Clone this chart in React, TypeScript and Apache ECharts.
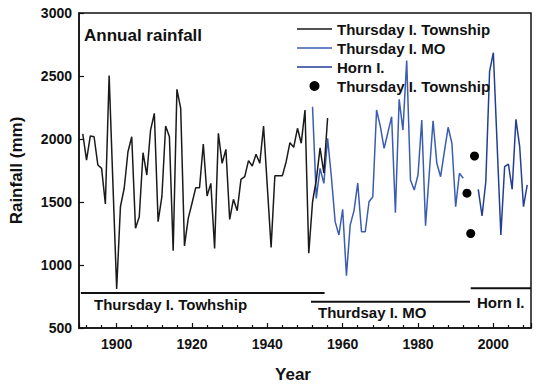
import React, { useEffect, useRef } from "react";
import * as echarts from "echarts";

// ---- data ----
const townshipYears = [
  1891, 1892, 1893, 1894, 1895, 1896, 1897, 1898, 1899, 1900,
  1901, 1902, 1903, 1904, 1905, 1906, 1907, 1908, 1909, 1910,
  1911, 1912, 1913, 1914, 1915, 1916, 1917, 1918, 1919, 1920,
  1921, 1922, 1923, 1924, 1925, 1926, 1927, 1928, 1929, 1930,
  1931, 1932, 1933, 1934, 1935, 1936, 1937, 1938, 1939, 1940,
  1941, 1942, 1943, 1944, 1945, 1946, 1947, 1948, 1949, 1950,
  1951, 1952, 1953, 1954, 1955, 1956,
];
const townshipRain = [
  2040, 1833, 2024, 2018, 1794, 1767, 1484, 2503, 1650, 810,
  1463, 1609, 1899, 2018, 1291, 1383, 1891, 1714, 2071, 2204,
  1344, 1542, 2103, 2018, 1114, 2394, 2243, 1151, 1370, 1490,
  1614, 1614, 1960, 1548, 1648, 1132, 2045, 1807, 1918, 1362,
  1521, 1431, 1680, 1701, 1828, 1786, 1879, 1807, 2103, 1620,
  1140, 1709, 1709, 1709, 1820, 1971, 1934, 2085, 1966, 2230,
  1093, 1500, 1675, 1929, 1730, 2167,
];

const moYears = [
  1952, 1953, 1954, 1955, 1956, 1957, 1958, 1959, 1960, 1961,
  1962, 1963, 1964, 1965, 1966, 1967, 1968, 1969, 1970, 1971,
  1972, 1973, 1974, 1975, 1976, 1977, 1978, 1979, 1980, 1981,
  1982, 1983, 1984, 1985, 1986, 1987, 1988, 1989, 1990, 1991, 1992,
];
const moRain = [
  2256, 1529, 1767, 1648, 2005, 1700, 1344, 1238, 1442, 915,
  1317, 1430, 1650, 1264, 1264, 1502, 1542, 2230, 2100, 1926,
  2050, 2177, 1415, 2315, 2071, 2622, 1675, 1595, 1714, 2151,
  1312, 1730, 2145, 1807, 1701, 1900, 2093, 1966, 1463, 1728, 1688,
];

const hornYears = [
  1996, 1997, 1998, 1999, 2000, 2001, 2002, 2003, 2004, 2005,
  2006, 2007, 2008, 2009,
];
const hornRain = [
  1601, 1389, 1661, 2534, 2685, 1960, 1238, 1780, 1801, 1601,
  2156, 1939, 1463, 1635,
];

const dotYears = [1993, 1994, 1995];
const dotRain = [1570, 1250, 1865];

// record-period bars: [startYear, endYear, level]
const periodTownship = [1890.5, 1955.2, 778];
const periodMO = [1951.6, 1993.8, 709];
const periodHorn = [1994, 2010, 815];

const yTicks = [500, 1000, 1500, 2000, 2500, 3000];

const FONT = "'Liberation Sans', Arial, Helvetica, sans-serif";
const MO_BLUE = "#3a5db3";
const HORN_BLUE = "#233f94";
// thin horizontal line icon (outer slivers keep the bounding box 10 tall)
const LINE_ICON =
  "path://M0,0L35,0L35,0.01L0,0.01Z M0,4.25L35,4.25L35,5.75L0,5.75Z M0,9.99L35,9.99L35,10L0,10Z";

function pairs(xs: number[], ys: number[]) {
  return xs.map((x, i) => [x, ys[i]]);
}
function period(p: number[]) {
  return [
    [p[0], p[2]],
    [p[1], p[2]],
  ];
}

export default function App() {
  const ref = useRef<HTMLDivElement>(null);

  useEffect(() => {
    if (!ref.current) return;
    const chart = echarts.init(ref.current, undefined, { renderer: "svg" });
    const periodLine = (data: number[][]) => ({
      type: "line",
      data,
      symbol: "none",
      silent: true,
      lineStyle: { color: "#111", width: 2 },
      z: 1,
    });
    chart.setOption({
      animation: false,
      backgroundColor: "#fff",
      textStyle: { fontFamily: FONT },
      grid: {
        left: 79,
        right: 9,
        top: 13,
        bottom: 61,
        show: true,
        borderColor: "#111",
        borderWidth: 1.5,
        backgroundColor: "transparent",
      },
      legend: {
        orient: "vertical",
        left: 297,
        top: 21,
        padding: 0,
        itemWidth: 35,
        itemHeight: 10,
        itemGap: 3,
        textStyle: {
          fontFamily: FONT,
          fontSize: 15,
          fontWeight: "bold",
          color: "#111",
          lineHeight: 16,
        },
        data: [
          { name: "Thursday I. Township", icon: LINE_ICON, itemStyle: { color: "#1a1a1a" } },
          { name: "Thursday I. MO", icon: LINE_ICON, itemStyle: { color: MO_BLUE } },
          { name: "Horn I.", icon: LINE_ICON, itemStyle: { color: HORN_BLUE } },
          { name: "Thursday I. Township ", icon: "circle", itemStyle: { color: "#000", opacity: 1 } },
        ],
      },
      xAxis: {
        type: "value",
        min: 1890,
        max: 2010,
        splitNumber: 6,
        name: "Year",
        nameLocation: "middle",
        nameGap: 38,
        nameTextStyle: {
          fontFamily: FONT,
          fontSize: 17,
          fontWeight: "bold",
          color: "#111",
          padding: [0, 24, 0, 0],
        },
        axisLine: { lineStyle: { color: "#111", width: 1.5 } },
        axisTick: { inside: true, length: 5, lineStyle: { color: "#111", width: 1.2 } },
        minorTick: { show: true, splitNumber: 5, length: 3, lineStyle: { color: "#111", width: 1.2 } },
        splitLine: { show: false },
        axisLabel: {
          margin: 9,
          showMinLabel: false,
          showMaxLabel: false,
          fontFamily: FONT,
          fontSize: 14,
          fontWeight: "bold",
          color: "#111",
          formatter: (v: number) => (v % 20 === 0 ? String(v) : ""),
        },
      },
      yAxis: {
        type: "value",
        min: yTicks[0],
        max: yTicks[yTicks.length - 1],
        interval: 500,
        name: "Rainfall (mm)",
        nameLocation: "middle",
        nameGap: 54,
        nameTextStyle: {
          fontFamily: FONT,
          fontSize: 17,
          fontWeight: "bold",
          color: "#111",
        },
        axisLine: { show: true, lineStyle: { color: "#111", width: 1.5 } },
        axisTick: { show: true, inside: true, length: 5, lineStyle: { color: "#111", width: 1.2 } },
        splitLine: { show: false },
        axisLabel: {
          margin: 7,
          fontFamily: FONT,
          fontSize: 14,
          fontWeight: "bold",
          color: "#111",
          formatter: (v: number) => String(v),
        },
      },
      series: [
        {
          name: "Thursday I. Township",
          type: "line",
          data: pairs(townshipYears, townshipRain),
          symbol: "none",
          lineStyle: { color: "#1a1a1a", width: 1.5 },
          itemStyle: { color: "#1a1a1a" },
          z: 3,
        },
        {
          name: "Thursday I. MO",
          type: "line",
          data: pairs(moYears, moRain),
          symbol: "none",
          lineStyle: { color: MO_BLUE, width: 1.5 },
          itemStyle: { color: MO_BLUE },
          z: 2,
        },
        {
          name: "Horn I.",
          type: "line",
          data: pairs(hornYears, hornRain),
          symbol: "none",
          lineStyle: { color: HORN_BLUE, width: 1.5 },
          itemStyle: { color: HORN_BLUE },
          z: 2,
        },
        {
          name: "Thursday I. Township ",
          type: "scatter",
          data: pairs(dotYears, dotRain),
          symbol: "circle",
          symbolSize: 9,
          itemStyle: { color: "#000", opacity: 1 },
          z: 4,
        },
        periodLine(period(periodTownship)),
        periodLine(period(periodMO)),
        periodLine(period(periodHorn)),
      ],
      graphic: [
        {
          type: "text",
          left: 84,
          top: 27,
          style: {
            text: "Annual rainfall",
            fontFamily: FONT,
            fontSize: 17,
            fontWeight: "bold",
            fill: "#111",
          },
        },
        {
          type: "text",
          left: 94,
          top: 297,
          style: {
            text: "Thursday I. Towhship",
            fontFamily: FONT,
            fontSize: 15,
            fontWeight: "bold",
            fill: "#111",
          },
        },
        {
          type: "text",
          left: 318,
          top: 305,
          style: {
            text: "Thurdsay I. MO",
            fontFamily: FONT,
            fontSize: 15,
            fontWeight: "bold",
            fill: "#111",
          },
        },
        {
          type: "text",
          left: 477,
          top: 295,
          style: {
            text: "Horn I.",
            fontFamily: FONT,
            fontSize: 15,
            fontWeight: "bold",
            fill: "#111",
          },
        },
      ],
    });
    return () => chart.dispose();
  }, []);

  return <div ref={ref} style={{ width: 540, height: 389, position: "absolute", left: 0, top: 0 }} />;
}
